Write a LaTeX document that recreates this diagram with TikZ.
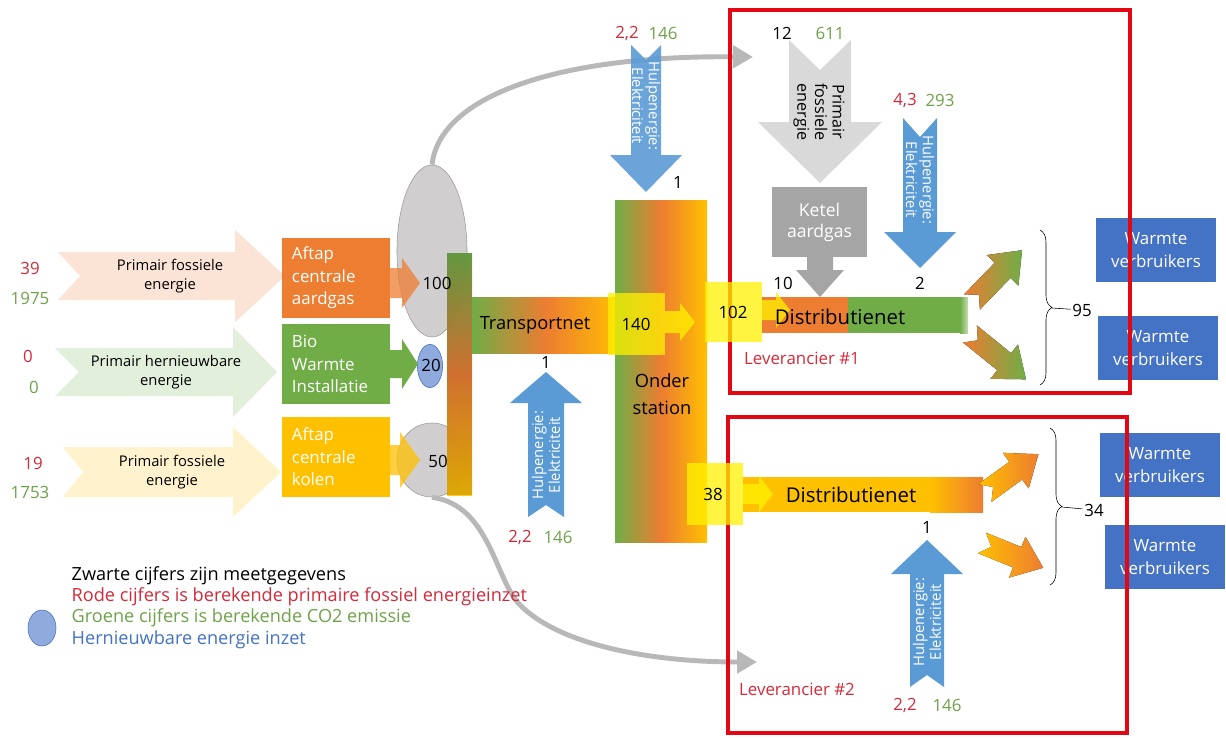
\documentclass[tikz,border=0pt]{standalone}
\usepackage{fontspec}
\setmainfont{Open Sans}
\usetikzlibrary{shapes.geometric,arrows.meta,decorations.pathreplacing}

\definecolor{orangeC}{HTML}{ED7D31}
\definecolor{greenC}{HTML}{70AD47}
\definecolor{goldC}{HTML}{FFC000}
\definecolor{hulpblue}{HTML}{5B9BD5}
\definecolor{wvblue}{HTML}{4472C4}
\definecolor{peach}{HTML}{FBE3D6}
\definecolor{palegreen}{HTML}{E2EFDA}
\definecolor{cream}{HTML}{FFF2CC}
\definecolor{lightgrey}{HTML}{D9D9D9}
\definecolor{midgrey}{HTML}{A5A5A5}
\definecolor{ellgrey}{HTML}{D0CECE}
\definecolor{numred}{HTML}{D42A3A}
\definecolor{numgreen}{HTML}{6FA24A}
\definecolor{framered}{HTML}{E30613}
\definecolor{bioblue}{HTML}{8FAADC}

% pijl met ingekeepte staart: opties, staart, hoek, lengte, half lijf, halve kop, kop, inkeping
\newcommand{\flowarrow}[8]{%
  \begin{scope}[shift={#2},rotate=#3]
    \fill[#1] (0,#5) -- (#4-#7,#5) -- (#4-#7,#6) -- (#4,0) -- (#4-#7,-#6)
      -- (#4-#7,-#5) -- (0,-#5) -- (#8,0) -- cycle;
  \end{scope}}

\begin{document}
\begin{tikzpicture}[x=0.025cm,y=-0.025cm,
    every node/.style={inner sep=1pt},
    num/.style={font=\fontsize{12}{14}\selectfont},
    rednum/.style={num,text=numred},
    greennum/.style={num,text=numgreen},
    arrowtxt/.style={align=center,font=\fontsize{10.5}{13.5}\selectfont},
    plant/.style={minimum width=2.7cm,minimum height=2cm,inner sep=0pt,text width=2.2cm,
      text=white,align=left,font=\fontsize{12}{16}\selectfont},
    consumer/.style={fill=wvblue,minimum width=3cm,minimum height=1.62cm,text=white,
      align=center,font=\fontsize{12}{16.5}\selectfont},
    hulptxt/.style={text=white,align=center,font=\fontsize{10.5}{12}\selectfont},
    bartxt/.style={font=\fontsize{13}{19}\selectfont,align=center},
    distxt/.style={font=\fontsize{14.5}{17}\selectfont},
    callout/.style={fill=yellow,fill opacity=0.75},
    redframe/.style={draw=framered,line width=3.2pt},
    legend/.style={anchor=west,font=\fontsize{12.9}{14}\selectfont},
    levtxt/.style={text=numred,font=\fontsize{12}{14}\selectfont},
    flowcurve/.style={draw=lightgrey!85!black,line width=3.5pt,-{Triangle[length=0.5cm,width=0.55cm]}}]
  \fill[white] (0,0) rectangle (1226,738);
  \useasboundingbox (0,0) rectangle (1226,738);

  % primaire energie
  \flowarrow{fill=peach}{(58,276)}{0}{227}{24}{46}{50}{22}
  \node[arrowtxt] (pf1) at (170,276) {Primair fossiele\\energie};
  \flowarrow{fill=palegreen}{(55,372)}{0}{222}{24}{45}{44}{24}
  \node[arrowtxt] (ph) at (166,372) {Primair hernieuwbare\\energie};
  \flowarrow{fill=cream}{(63,472)}{0}{218}{25}{45}{48}{20}
  \node[arrowtxt] (pf2) at (172,472) {Primair fossiele\\energie};
  \node[rednum] (r39) at (30,268) {39};
  \node[greennum] (g1975) at (30,298) {1975};
  \node[rednum] (r0) at (28,356) {0};
  \node[greennum] (g0) at (34,387) {0};
  \node[rednum] (r19) at (33,463) {19};
  \node[greennum] (g1753) at (30,492) {1753};

  % centrales
  \node[plant,fill=orangeC] (gasplant) at (336,278) {Aftap\\centrale\\aardgas};
  \node[plant,fill=greenC] (bioplant) at (336,364) {Bio\\Warmte\\Installatie};
  \node[plant,fill=goldC] (coalplant) at (336,457) {Aftap\\centrale\\kolen};

  % grijze curves naar de leveranciers
  \node[ellipse,fill=ellgrey,draw=ellgrey!75!black,minimum width=1.75cm,minimum height=4.3cm] (gas) at (432,251) {};
  \node[ellipse,fill=ellgrey,draw=ellgrey!75!black,minimum width=1.75cm,minimum height=1.85cm] (coal) at (432,460) {};
  \draw[flowcurve] (gas.north) .. controls (440,95) and (560,55) .. (753,57);
  \draw[flowcurve] (coal.south) .. controls (490,505) and (495,580) .. (520,605)
    .. controls (560,645) and (650,662) .. (757,662);
  \node[ellipse,fill=bioblue,draw=wvblue,minimum width=0.63cm,minimum height=1.08cm,inner sep=0pt] (bio) at (430,366) {};

  % pijltjes naar de verzamelaar
  \flowarrow{fill=orangeC,fill opacity=0.75}{(390,283)}{0}{30}{15}{25}{18}{0}
  \flowarrow{fill=greenC}{(390,364)}{0}{28}{14}{25}{16}{0}
  \flowarrow{fill=goldC,fill opacity=0.75}{(390,460)}{0}{30}{15}{28}{20}{0}

  % verzamelaar en transportnet
  \fill[top color=greenC,bottom color=goldC,middle color=orangeC,fill opacity=0.85] (447,253) rectangle (472,495);
  \fill[left color=greenC,right color=goldC,middle color=orangeC] (472,297) rectangle (620,353);
  \node[bartxt] (tnet) at (535,325) {Transportnet};
  \node[num] (n100) at (437,283) {100};
  \node[num] (n20) at (431,365) {20};
  \node[num] (n50) at (438,461) {50};

  % onderstation
  \fill[left color=greenC,right color=goldC,middle color=orangeC] (615,200) rectangle (707,542);
  \node[bartxt] (ost) at (662,394) {Onder\\station};
  \node[num] (n1a) at (678,182) {1};

  % hulpenergie transportnet
  \flowarrow{fill=hulpblue,fill opacity=0.9}{(646,45)}{-90}{147}{15}{36}{37}{15}
  \node[hulptxt,rotate=-90] (hulp1) at (646,106) {Hulpenergie:\\Elektriciteit};
  \node[rednum] (r22a) at (627,33) {2,2};
  \node[greennum] (g146a) at (663,33) {146};
  \flowarrow{fill=hulpblue}{(546,517)}{90}{145}{18}{36}{31}{12}
  \node[hulptxt,rotate=90] (hulp2) at (546,455) {Hulpenergie:\\Elektriciteit};
  \node[num] (n1b) at (546,362) {1};
  \node[rednum] (r22b) at (520,537) {2,2};
  \node[greennum] (g146b) at (558,537) {146};

  % leverancier 1
  \flowarrow{fill=lightgrey}{(820,40)}{-90}{143}{31}{62}{61}{30}
  \node[rotate=-90,align=center,font=\fontsize{11.5}{12.5}\selectfont] (pf3) at (819,112) {Primair\\fossiele\\energie};
  \node[num] (n12) at (782,33) {12};
  \node[greennum] (g611) at (830,33) {611};
  \node[fill=midgrey,minimum width=2.375cm,minimum height=1.75cm,text=white,align=center,
    font=\fontsize{12.5}{15}\selectfont] (ketel) at (819.5,222) {Ketel\\aardgas};
  \flowarrow{fill=midgrey}{(820,257)}{-90}{40}{13}{24}{27}{0}
  \flowarrow{fill=hulpblue}{(920,118)}{-90}{150}{17}{36}{36}{19}
  \node[hulptxt,rotate=-90] (hulp3) at (920,180) {Hulpenergie:\\Elektriciteit};
  \node[rednum] (r43) at (905,100) {4,3};
  \node[greennum] (g293) at (940,100) {293};
  \node[num] (n10) at (783,283) {10};
  \node[num] (n2) at (920,283) {2};
  \fill[orangeC] (762,297) rectangle (848,333);
  \fill[greenC] (848,297) rectangle (960,333);
  \fill[left color=greenC,right color=greenC!40] (960,297) rectangle (968,333);
  \flowarrow{left color=orangeC,right color=greenC}{(972,302)}{46}{72}{11}{22}{28}{10}
  \flowarrow{left color=orangeC,right color=greenC}{(970,334)}{-39}{72}{11}{22}{28}{10}
  \draw[decorate,decoration={brace,amplitude=0.3cm}] (1040,230) -- (1040,385);
  \coordinate (b1tip) at (1052,308);
  \node[num] (n95) at (1082,310) {95};
  \draw (b1tip) -- (n95);
  \node[levtxt] (lev1) at (802,358) {Leverancier \#1};

  % leverancier 2
  \fill[goldC] (743,477) rectangle (930,512);
  \fill[left color=goldC,right color=orangeC] (930,477) rectangle (983,512);
  \flowarrow{left color=goldC,right color=orangeC}{(985,493)}{36}{66}{11}{22}{28}{10}
  \flowarrow{left color=goldC,right color=orangeC}{(982,543)}{-22}{66}{11}{22}{28}{10}
  \draw[decorate,decoration={brace,amplitude=0.3cm}] (1050,428) -- (1050,585);
  \coordinate (b2tip) at (1062,507);
  \node[num] (n34) at (1094,510) {34};
  \draw (b2tip) -- (n34);
  \flowarrow{fill=hulpblue}{(927,687)}{90}{147}{17}{36}{34}{12}
  \node[hulptxt,rotate=90] (hulp4) at (927,622) {Hulpenergie:\\Elektriciteit};
  \node[num] (n1c) at (927,527) {1};
  \node[rednum] (r22c) at (905,705) {2,2};
  \node[greennum] (g146c) at (947,705) {146};
  \node[levtxt] (lev2) at (797,689) {Leverancier \#2};

  % warmte verbruikers
  \node[consumer] (wv1) at (1156,250) {Warmte\\verbruikers};
  \node[consumer] (wv2) at (1158,348) {Warmte\\verbruikers};
  \node[consumer] (wv3) at (1160,465) {Warmte\\verbruikers};
  \node[consumer] (wv4) at (1165,557) {Warmte\\verbruikers};

  % kaders leveranciers
  \draw[redframe] (730,10) rectangle (1130,393);
  \draw[redframe] (728,417) rectangle (1127,733);

  % gele overdrachtspunten
  \fill[callout] (608,293) rectangle (665,355);
  \flowarrow{callout}{(665,322)}{0}{30}{11}{19}{15}{0}
  \node[num] (n140) at (636,324) {140};
  \fill[callout] (705,282) rectangle (762,342);
  \flowarrow{callout}{(762,310)}{0}{28}{10}{18}{14}{0}
  \node[num] (n102) at (733,312) {102};
  \node[distxt] (dnet1) at (840,317) {Distributienet};
  \fill[callout] (687,463) rectangle (743,525);
  \flowarrow{callout}{(743,494)}{0}{30}{10}{18}{14}{0}
  \node[num] (n38) at (713,494) {38};
  \node[distxt] (dnet2) at (851,495) {Distributienet};

  % legenda
  \node[legend] (lg1) at (70,576) {Zwarte cijfers zijn meetgegevens};
  \node[legend,text=numred] (lg2) at (70,597) {Rode cijfers is berekende primaire fossiel energieinzet};
  \node[legend,text=numgreen] (lg3) at (70,618) {Groene cijfers is berekende CO2 emissie};
  \node[legend,text=wvblue] (lg4) at (70,640) {Hernieuwbare energie inzet};
  \node[ellipse,fill=bioblue,draw=wvblue,minimum width=0.7cm,minimum height=0.9cm] (lgbio) at (42,628) {};
\end{tikzpicture}
\end{document}
